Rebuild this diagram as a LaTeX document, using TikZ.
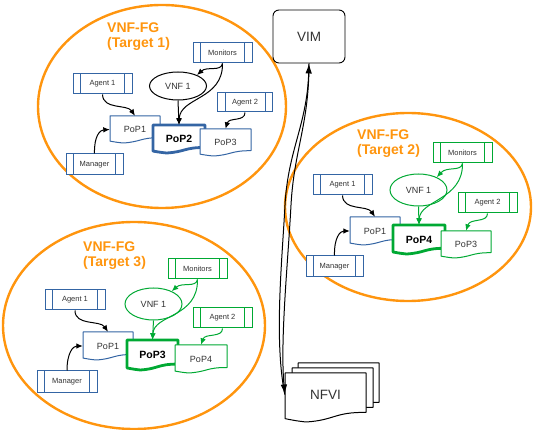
\documentclass[tikz,border=0pt]{standalone}
\usepackage{fontspec}
\setmainfont{Liberation Sans}
\usetikzlibrary{arrows.meta,calc,shapes.geometric}

\definecolor{lblue}{HTML}{3465A4}
\definecolor{lgreen}{HTML}{00A933}
\definecolor{lorange}{HTML}{FF950E}
\definecolor{ink}{HTML}{333333}

\tikzset{
  frame/.style={ellipse, draw=lorange, line width=2.4pt, inner sep=0pt},
  title/.style={text=lorange, font=\bfseries\fontsize{14}{16}\selectfont, anchor=base west, inner sep=0pt},
  proc/.style={rectangle, draw=#1, line width=1pt, fill=white, text=ink,
    font=\fontsize{7.5}{9}\selectfont, inner sep=0pt, minimum height=20pt, minimum width=59pt},
  vnf/.style={ellipse, draw=#1, line width=1pt, fill=white, text=ink,
    font=\fontsize{9}{11}\selectfont, inner sep=0pt, minimum width=57pt, minimum height=31pt},
  doclabel/.style={text=ink, font=\fontsize{9}{11}\selectfont, inner sep=0pt},
  docbold/.style={text=black, font=\bfseries\fontsize{10.5}{12}\selectfont, inner sep=0pt},
  bigdoc/.style={text=ink, font=\fontsize{13.5}{15}\selectfont, inner sep=0pt, yshift=3pt},
  docline/.style={draw=#1, line width=1pt, fill=white, line join=round},
  docthick/.style={draw=#1, line width=2.8pt, fill=white, line join=round},
  link/.style={draw=#1, line width=1pt, -{Latex[length=6.5pt,width=5.5pt]}},
  biglink/.style={draw=black, line width=1pt, -{Latex[length=10pt,width=6.5pt]}},
}

% process box side bars
\newcommand\procbars[2]{%
  \draw[#2, line width=1pt] ([xshift=8pt]#1.north west) -- ([xshift=8pt]#1.south west)
    ([xshift=-8pt]#1.north east) -- ([xshift=-8pt]#1.south east);}

% document shape: name, cx, cy, w, h, outline style, text style, text
\newcommand\docnode[8]{%
  \draw[#6] ({#2-#4/2},{#3-#5/2}) -- ({#2+#4/2},{#3-#5/2})
    -- ({#2+#4/2},{#3-#5/2+0.8037*#5})
    .. controls ({#2-#4/2+0.604*#4},{#3-#5/2+0.797*#5}) and ({#2-#4/2+0.6176*#4},{#3-#5/2+0.9616*#5})
    .. ({#2-#4/2+0.26*#4},{#3+#5/2})
    .. controls ({#2-#4/2+0.1324*#4},{#3-#5/2+0.9769*#5}) and ({#2-#4/2+0.0856*#4},{#3-#5/2+0.9583*#5})
    .. ({#2-#4/2},{#3-#5/2+0.9315*#5}) -- cycle;
  \node[#7, minimum width=#4pt, minimum height=#5pt] (#1) at (#2,#3) {#8};}

\begin{document}
\begin{tikzpicture}[x=1pt,y=-1pt]
\useasboundingbox (0,0) rectangle (533,430);

% ---------- the three VNF-FG groups ----------
\node[frame, minimum width=248pt, minimum height=203pt] (g1) at (162,106.5) {};
\node[frame, minimum width=246pt, minimum height=188pt] (g2) at (408,207) {};
\node[frame, minimum width=262pt, minimum height=207pt] (g3) at (134,325.5) {};

\node[title] (g1a) at (107,32.5) {VNF-FG};
\node[title] (g1b) at (107,48) {(Target 1)};
\node[title] (g2a) at (357,139.5) {VNF-FG};
\node[title] (g2b) at (357,154.5) {(Target 2)};
\node[title] (g3a) at (83,252) {VNF-FG};
\node[title] (g3b) at (83,266.5) {(Target 3)};

% ---------- Target 1 ----------
\node[proc=lblue] (t1mon) at (222.5,53) {Monitors}; \procbars{t1mon}{lblue}
\node[vnf=black, minimum height=28pt] (t1vnf) at (178,86) {VNF 1};
\node[proc=lblue] (t1a1) at (102.5,84) {Agent 1}; \procbars{t1a1}{lblue}
\node[proc=lblue, minimum width=55pt, minimum height=19pt] (t1a2) at (245,102.5) {Agent 2}; \procbars{t1a2}{lblue}
\docnode{t1p1}{135}{129.5}{50}{27}{docline=lblue}{doclabel}{PoP1}
\docnode{t1p2}{179}{139}{52}{28}{docthick=lblue}{docbold}{PoP2}
\docnode{t1p3}{225.5}{142.5}{51}{27}{docline=lblue}{doclabel}{PoP3}
\node[proc=lblue, minimum width=57pt, minimum height=21pt] (t1mg) at (94.5,164.5) {Manager}; \procbars{t1mg}{lblue}

\draw[link=black] (t1a1.south) .. controls (103,110) and (127,104) .. (t1p1.north);
\draw[link=black] (t1mg.north) .. controls (94,136) and (100,130) .. (t1p1.west);
\draw[link=black] (t1mon.south) .. controls (221,72) and (207,66) .. (t1vnf.30);
\draw[link=black] (t1mon.south) .. controls (223,100) and (180,97) .. (t1p2.north);
\draw[link=black] (t1vnf.south) -- (t1p2.north);
\draw[link=black] (t1a2.south) .. controls (245,122) and (229,117) .. (t1p3.north);

% ---------- Target 2 ----------
\node[proc=lgreen] (t2mon) at (462.5,153) {Monitors}; \procbars{t2mon}{lgreen}
\node[vnf=lgreen, minimum height=32pt] (t2vnf) at (418.5,190) {VNF 1};
\node[proc=lblue] (t2a1) at (342.5,185) {Agent 1}; \procbars{t2a1}{lblue}
\node[proc=lgreen] (t2a2) at (487.5,203) {Agent 2}; \procbars{t2a2}{lgreen}
\docnode{t2p1}{375}{231}{50}{28}{docline=lblue}{doclabel}{PoP1}
\docnode{t2p4}{419}{239.5}{52}{29}{docthick=lgreen}{docbold}{PoP4}
\docnode{t2p3}{466}{244.5}{50}{27}{docline=lgreen}{doclabel}{PoP3}
\node[proc=lblue, minimum width=57pt, minimum height=21pt] (t2mg) at (334.5,266.5) {Manager}; \procbars{t2mg}{lblue}

\draw[link=black] (t2a1.south) .. controls (343,211) and (367,205) .. (t2p1.north);
\draw[link=black] (t2mg.north) .. controls (334,238) and (340,231) .. (t2p1.west);
\draw[link=lgreen] (t2mon.south) .. controls (461,172) and (447,166) .. (t2vnf.35);
\draw[link=lgreen] (t2mon.south) .. controls (463,200) and (420,200) .. (t2p4.north);
\draw[link=lgreen] (t2vnf.south) -- (t2p4.north);
\draw[link=lgreen] (t2a2.south) .. controls (487.5,223) and (470,218) .. (t2p3.north);

% ---------- Target 3 ----------
\node[proc=lgreen] (t3mon) at (197.5,269) {Monitors}; \procbars{t3mon}{lgreen}
\node[vnf=lgreen, minimum height=32pt] (t3vnf) at (153.5,304) {VNF 1};
\node[proc=lblue, minimum width=60pt] (t3a1) at (75,300) {Agent 1}; \procbars{t3a1}{lblue}
\node[proc=lgreen] (t3a2) at (222.5,318) {Agent 2}; \procbars{t3a2}{lgreen}
\docnode{t3p1}{108}{346}{50}{28}{docline=lblue}{doclabel}{PoP1}
\docnode{t3p3}{152.5}{355}{51}{30}{docthick=lgreen}{docbold}{PoP3}
\docnode{t3p4}{201}{359}{52}{28}{docline=lgreen}{doclabel}{PoP4}
\node[proc=lblue, minimum width=60pt, minimum height=21pt] (t3mg) at (67,381.5) {Manager}; \procbars{t3mg}{lblue}

\draw[link=black] (t3a1.south) .. controls (75,326) and (100,320) .. (t3p1.north);
\draw[link=black] (t3mg.north) .. controls (67,353) and (73,346) .. (t3p1.west);
\draw[link=lgreen] (t3mon.south) .. controls (196,288) and (182,282) .. (t3vnf.35);
\draw[link=lgreen] (t3mon.south) .. controls (198,318) and (154,314) .. (t3p3.north);
\draw[link=lgreen] (t3vnf.south) -- (t3p3.north);
\draw[link=lgreen] (t3a2.south) .. controls (222.5,338) and (205,333) .. (t3p4.north);

% ---------- VIM and NFVI ----------
\node[draw, rounded corners=6pt, line width=0.9pt, minimum width=72pt, minimum height=53pt,
      text=ink, font=\fontsize{13.5}{15}\selectfont] (vim) at (309,36.5) {VIM};
\docnode{nfvib}{338.5}{387.5}{81}{49}{docline=black}{doclabel}{}
\docnode{nfvim}{332.5}{392.5}{81}{49}{docline=black}{doclabel}{}
\docnode{nfvi}{325.5}{397.5}{81}{49}{docline=black}{bigdoc}{NFVI}

% two parallel links between VIM and NFVI, one for each direction
\draw[biglink] (nfvi.west) .. controls (274,340) and (282,262) .. (285,205)
   .. controls (288,150) and (307,125) .. (vim.south);
\draw[biglink] (vim.south) .. controls (309,125) and (294,150) .. (291,205)
   .. controls (288,262) and (280,340) .. (nfvi.west);
\end{tikzpicture}
\end{document}
